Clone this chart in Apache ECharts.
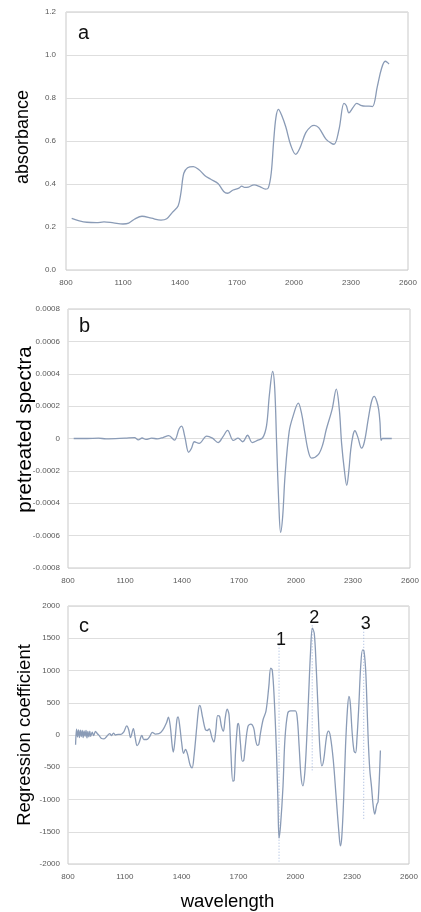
<!DOCTYPE html>
<html>
<head>
<meta charset="utf-8">
<title>spectra</title>
<script src="https://cdn.jsdelivr.net/npm/echarts@6/dist/echarts.min.js"></script>
<style>
  html, body { margin: 0; padding: 0; background: #fff; }
  #chart { width: 421px; height: 912px; }
</style>
</head>
<body>
<div id="chart"></div>
<script>
// wavelength ticks shared by all three panels
const xTicks = [800, 1100, 1400, 1700, 2000, 2300, 2600]

// a: absorbance
const absWl = [830, 870, 910, 960, 1000, 1050, 1100, 1130, 1160, 1200, 1250, 1300, 1330, 1360, 1390, 1405, 1420, 1440, 1470, 1500,
  1530, 1560, 1600, 1630, 1650, 1680, 1710, 1725, 1740, 1760, 1790, 1820, 1850, 1865, 1880, 1893, 1905, 1918, 1935, 1957,
  1983, 2009, 2030, 2062, 2090, 2106, 2130, 2167, 2195, 2211, 2237, 2263, 2275, 2289, 2310, 2330, 2351, 2375, 2395, 2413,
  2439, 2460, 2480, 2492, 2500]
const absVal = [0.240, 0.229, 0.222, 0.220, 0.224, 0.219, 0.214, 0.218, 0.236, 0.250, 0.241, 0.232, 0.238, 0.268, 0.298, 0.36, 0.45, 0.476, 0.481, 0.466,
  0.440, 0.423, 0.402, 0.365, 0.357, 0.372, 0.381, 0.390, 0.384, 0.386, 0.396, 0.388, 0.376, 0.382, 0.45, 0.60, 0.71, 0.747, 0.72, 0.665,
  0.58, 0.538, 0.565, 0.639, 0.668, 0.673, 0.662, 0.610, 0.590, 0.585, 0.654, 0.775, 0.765, 0.731, 0.755, 0.775, 0.766, 0.762, 0.762, 0.76,
  0.855, 0.935, 0.971, 0.965, 0.958]

// b: pretreated spectra
const preWl = [830, 900, 960, 1000, 1100, 1150, 1170, 1190, 1210, 1240, 1270, 1300, 1330, 1360, 1385, 1398, 1415, 1435, 1450, 1465,
  1490, 1530, 1560, 1590, 1615, 1640, 1670, 1695, 1720, 1745, 1770, 1800, 1825, 1845, 1860, 1877, 1888, 1898, 1910, 1919,
  1930, 1942, 1964, 1985, 2012, 2030, 2047, 2065, 2082, 2117, 2140, 2159, 2190, 2212, 2228, 2240, 2255, 2267, 2278, 2288,
  2300, 2310, 2325, 2345, 2360, 2381, 2398, 2412, 2425, 2435, 2442, 2448, 2455, 2504]
const preVal = [0, 0, 0.000002, -0.000002, 0.000002, 0.000005, -0.000008, 0.000003, -0.000006, 0.000002, -0.000002, 0.000006, 0.000018, -0.00001, 0.00006, 0.000076, 0.00001, -0.000085, -0.00006, -0.00002,
  -0.00003, 0.000015, 0.000002, -0.000025, 0.00001, 0.00005, -0.000012, 0.000002, -0.00002, 0.00002, -0.000025, -0.00001, 0.000005, 0.00008, 0.00027, 0.000414, 0.00031, -0.00003, -0.00042, -0.00058,
  -0.00048, -0.000235, 0.000043, 0.00014, 0.000218, 0.00015, 0.000033, -0.00008, -0.000121, -0.0001, -0.00004, 0.000054, 0.00018, 0.000305, 0.00018, -0.00003, -0.0002, -0.00029, -0.0002, -0.00007,
  0.00002, 0.000048, 0.00001, -0.00006, -0.00002, 0.000126, 0.00023, 0.00026, 0.00023, 0.00018, 0.0001, -0.000012, 0, 0]

// c: regression coefficient
const regWl = [840, 845, 850, 855, 860, 865, 870, 875, 880, 885, 890, 895, 900, 905, 910, 915, 920, 928, 935, 945,
  955, 965, 975, 990, 1005, 1020, 1030, 1040, 1050, 1065, 1080, 1095, 1110, 1120, 1130, 1145, 1155, 1165, 1175, 1190,
  1200, 1215, 1230, 1245, 1260, 1280, 1300, 1320, 1330, 1340, 1350, 1356, 1365, 1375, 1381, 1390, 1400, 1410, 1420, 1430,
  1445, 1455, 1465, 1480, 1490, 1496, 1510, 1525, 1535, 1545, 1560, 1570, 1580, 1590, 1600, 1610, 1620, 1630, 1640, 1650,
  1660, 1670, 1677, 1685, 1695, 1700, 1710, 1720, 1727, 1735, 1750, 1765, 1780, 1790, 1800, 1807, 1815, 1830, 1845, 1860,
  1870, 1878, 1888, 1900, 1908, 1914, 1922, 1935, 1945, 1960, 1975, 2000, 2010, 2020, 2030, 2040, 2050, 2060, 2070, 2080,
  2090, 2100, 2110, 2120, 2130, 2140, 2150, 2165, 2175, 2185, 2200, 2215, 2230, 2238, 2245, 2255, 2265, 2275, 2283, 2290,
  2300, 2310, 2318, 2325, 2335, 2345, 2355, 2362, 2370, 2375, 2384, 2393, 2402, 2411, 2419, 2430, 2437, 2449]
const regVal = [-150, 90, -30, 80, -40, 75, -25, 70, -40, 65, -20, 70, -45, 55, -30, 60, -20, 45, -10, 55,
  20, -10, -50, -60, -20, 20, -10, 30, 0, 10, 10, 50, 140, 85, -40, 100, -50, -165, -120, -5,
  -70, -70, -30, 40, 15, 20, 75, 190, 275, 135, -170, -265, -70, 240, 280, 135, -120, -285, -225, -285,
  -470, -510, -330, 135, 420, 460, 280, 85, 70, 95, -45, -110, 60, 300, 290, 135, 60, 265, 400, 315,
  -275, -715, -700, -225, 160, 180, -120, -405, -400, -200, 135, 170, 110, -70, -160, -150, 10, 240, 370, 750,
  1035, 1010, 600, -225, -1000, -1600, -1400, -790, -70, 340, 375, 375, 265, -170, -640, -790, -585, -70, 600, 1270,
  1655, 1575, 1060, 395, -225, -480, -380, -20, 60, -20, -380, -945, -1510, -1720, -1590, -995, -170, 395, 600, 495,
  35, -250, -275, -70, 445, 1065, 1320, 1305, 1065, 750, -20, -540, -800, -1100, -1225, -1080, -1030, -240]

// dotted marker lines in panel c
const peakNames = ['1', '2', '3']
const peakWl = [1914, 2089, 2361]
const peakTop = [1400, 1700, 1740]
const peakBottom = [-1960, -580, -1330]

const pair = (xs, ys) => xs.map((x, i) => [x, ys[i]])

const chart = echarts.init(document.getElementById('chart'))

const lineColor = '#8a9bb6'
const tickFont = { color: '#595959', fontSize: 8, fontFamily: '"Liberation Sans Narrow", "Liberation Sans", sans-serif' }
const titleFont = 'Liberation Sans'

const grids = [
  { left: 66, top: 12, width: 342, height: 258 },
  { left: 68, top: 309, width: 342, height: 259 },
  { left: 68, top: 606, width: 341, height: 258 },
].map(g => ({ ...g, show: true, borderColor: '#c9c9c9', borderWidth: 1, outerBoundsMode: 'none' }))

const xAxes = [0, 1, 2].map(i => ({
  type: 'value',
  gridIndex: i,
  min: xTicks[0],
  max: xTicks[xTicks.length - 1],
  interval: xTicks[1] - xTicks[0],
  axisLine: { show: false },
  axisTick: { show: false },
  splitLine: { show: false },
  axisLabel: { ...tickFont, margin: 9, formatter: v => String(v) },
  name: i === 2 ? 'wavelength' : '',
  nameLocation: 'middle',
  nameGap: 28,
  nameMoveOverlap: false,
  nameTextStyle: { color: '#000', fontSize: 18.5, fontFamily: titleFont, padding: [0, 22, 0, 0] },
}))

const yBase = {
  type: 'value',
  axisLine: { show: false },
  axisTick: { show: false },
  splitLine: { lineStyle: { color: '#dedede', width: 1 } },
  nameLocation: 'middle',
  nameRotate: 90,
  nameMoveOverlap: false,
}

const yAxes = [
  {
    ...yBase, gridIndex: 0, min: 0, max: 1.2, interval: 0.2,
    axisLabel: { ...tickFont, margin: 10, formatter: v => v.toFixed(1) },
    name: 'absorbance', nameGap: 34,
    nameTextStyle: { color: '#000', fontSize: 18, fontFamily: titleFont, padding: [0, 0, 0, 8] },
  },
  {
    ...yBase, gridIndex: 1, min: -0.0008, max: 0.0008, interval: 0.0002,
    axisLabel: { ...tickFont, margin: 8, formatter: v => Math.abs(v) < 1e-9 ? '0' : v.toFixed(4) },
    name: 'pretreated spectra', nameGap: 32,
    nameTextStyle: { color: '#000', fontSize: 20.5, fontFamily: titleFont, padding: [0, 0, 0, 18] },
  },
  {
    ...yBase, gridIndex: 2, min: -2000, max: 2000, interval: 500,
    axisLabel: { ...tickFont, margin: 8, formatter: v => String(v) },
    name: 'Regression coefficient', nameGap: 34,
    nameTextStyle: { color: '#000', fontSize: 18.5, fontFamily: titleFont },
  },
]

const curve = (i, xs, ys) => ({
  type: 'line',
  xAxisIndex: i,
  yAxisIndex: i,
  data: pair(xs, ys),
  smooth: 0.35,
  symbol: 'none',
  lineStyle: { color: lineColor, width: 1.3 },
  z: 3,
})

const peakLabelDy = [5, 3, 11]
const peakLines = peakWl.map((wl, i) => ({
  type: 'line',
  xAxisIndex: 2,
  yAxisIndex: 2,
  data: [[wl, peakTop[i]], [wl, peakBottom[i]]],
  showSymbol: true,
  symbol: 'circle',
  symbolSize: 0,
  lineStyle: { color: '#9fb4dc', width: 1, type: [1, 2] },
  label: {
    show: true,
    position: 'top',
    distance: 1,
    offset: [2, peakLabelDy[i]],
    formatter: p => p.dataIndex === 0 ? peakNames[i] : '',
    color: '#111',
    fontSize: 18,
    fontFamily: titleFont,
  },
  z: 2,
}))

const panelTag = (text, x, y) => ({
  type: 'text',
  left: x,
  top: y,
  style: { text, fill: '#111', font: '20px "Liberation Sans"' },
})

chart.setOption({
  animation: false,
  backgroundColor: '#fff',
  grid: grids,
  xAxis: xAxes,
  yAxis: yAxes,
  graphic: [
    panelTag('a', 78, 23),
    panelTag('b', 79, 316),
    panelTag('c', 79, 616),
  ],
  series: [
    curve(0, absWl, absVal),
    curve(1, preWl, preVal),
    curve(2, regWl, regVal),
    ...peakLines,
  ],
})
</script>
</body>
</html>
